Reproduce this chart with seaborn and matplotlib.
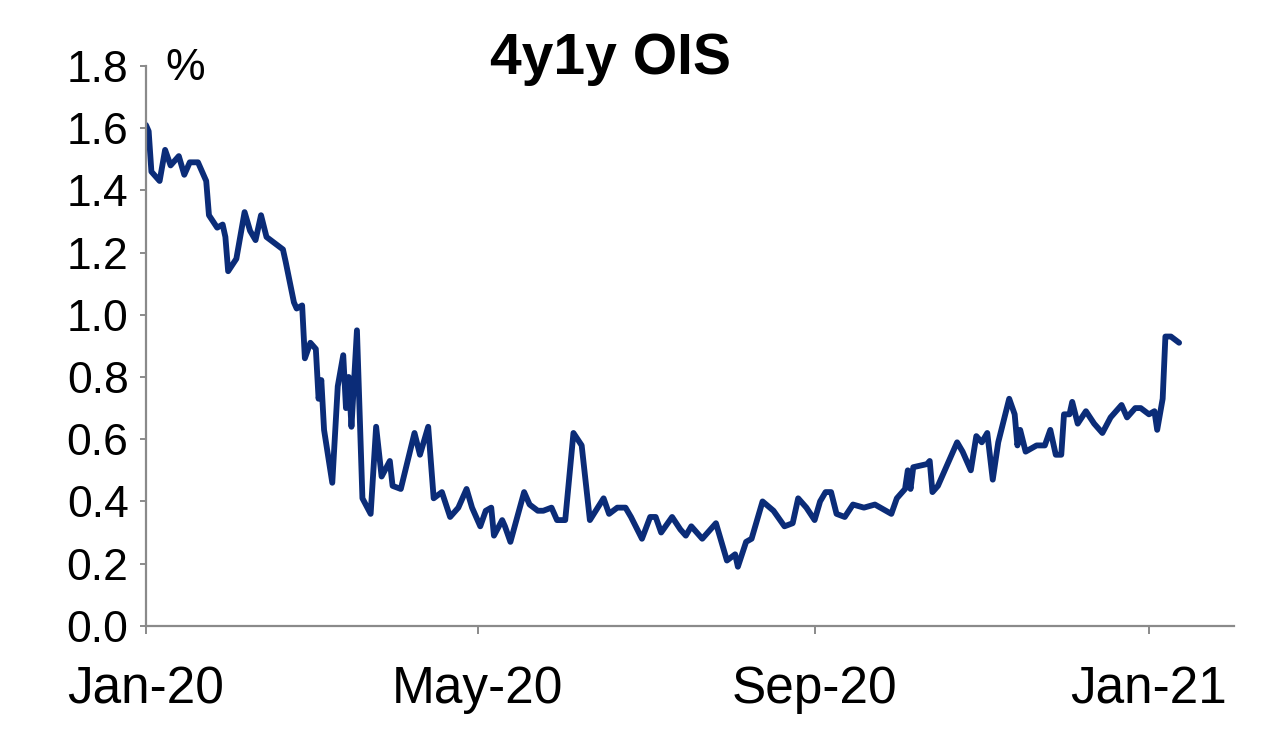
import matplotlib
matplotlib.use("Agg")
import matplotlib.pyplot as plt
import matplotlib.dates as mdates
import numpy as np
import pandas as pd
import seaborn as sns

# Days since 2020-01-01 and 4y1y OIS level in %
day_offsets = [0, 1, 2, 5, 7, 9, 12, 14, 16, 19, 22, 23, 26, 28, 29, 30, 33, 36, 38, 40,
               42, 44, 50, 51, 54, 55, 57, 58, 60, 62, 63, 64, 65, 68, 70, 72, 73, 74, 75, 77,
               79, 82, 84, 86, 89, 90, 93, 98, 100, 103, 105, 108, 111, 114, 117, 119, 122, 124, 126, 127,
               130, 131, 133, 138, 140, 143, 145, 148, 150, 153, 156, 159, 162, 167, 169, 172, 175, 177, 181, 184,
               186, 188, 192, 195, 197, 199, 203, 205, 208, 212, 215, 216, 219, 221, 225, 229, 233, 236, 238, 241,
               244, 246, 248, 250, 252, 255, 258, 262, 266, 268, 272, 274, 277, 278, 279, 280, 285, 286, 287, 289,
               293, 296, 298, 301, 303, 305, 307, 309, 311, 315, 317, 318, 319, 321, 325, 328, 330, 332, 334, 335,
               337, 338, 340, 343, 346, 349, 352, 356, 358, 361, 363, 366, 368, 369, 371, 372, 374, 377]
ois_4y1y = [1.61, 1.59, 1.46, 1.43, 1.53, 1.48, 1.51, 1.45, 1.49, 1.49, 1.43, 1.32, 1.28, 1.29, 1.25, 1.14, 1.18, 1.33, 1.27, 1.24,
            1.32, 1.25, 1.21, 1.17, 1.04, 1.02, 1.03, 0.86, 0.91, 0.89, 0.73, 0.79, 0.63, 0.46, 0.77, 0.87, 0.70, 0.80, 0.64, 0.95,
            0.41, 0.36, 0.64, 0.48, 0.53, 0.45, 0.44, 0.62, 0.55, 0.64, 0.41, 0.43, 0.35, 0.38, 0.44, 0.38, 0.32, 0.37, 0.38, 0.29,
            0.34, 0.32, 0.27, 0.43, 0.39, 0.37, 0.37, 0.38, 0.34, 0.34, 0.62, 0.58, 0.34, 0.41, 0.36, 0.38, 0.38, 0.35, 0.28, 0.35,
            0.35, 0.30, 0.35, 0.31, 0.29, 0.32, 0.28, 0.30, 0.33, 0.21, 0.23, 0.19, 0.27, 0.28, 0.40, 0.37, 0.32, 0.33, 0.41, 0.38,
            0.34, 0.40, 0.43, 0.43, 0.36, 0.35, 0.39, 0.38, 0.39, 0.38, 0.36, 0.41, 0.44, 0.50, 0.44, 0.51, 0.52, 0.53, 0.43, 0.45,
            0.53, 0.59, 0.56, 0.50, 0.61, 0.59, 0.62, 0.47, 0.59, 0.73, 0.68, 0.58, 0.63, 0.56, 0.58, 0.58, 0.63, 0.55, 0.55, 0.68,
            0.68, 0.72, 0.65, 0.69, 0.65, 0.62, 0.67, 0.71, 0.67, 0.70, 0.70, 0.68, 0.69, 0.63, 0.73, 0.93, 0.93, 0.91]

tick_dates = ["2020-01-01", "2020-05-01", "2020-09-01", "2021-01-01"]
y_ticks = [0.0, 0.2, 0.4, 0.6, 0.8, 1.0, 1.2, 1.4, 1.6, 1.8]
title_text = "4y1y OIS"
unit_text = "%"

start = pd.Timestamp("2020-01-01")
df = pd.DataFrame({
    "date": start + pd.to_timedelta(day_offsets, unit="D"),
    "value": ois_4y1y,
})

sns.set_theme(style="white")
plt.rcParams["font.family"] = ["Liberation Sans", "DejaVu Sans"]

fig = plt.figure(figsize=(12.8, 7.32), dpi=100)
ax = fig.add_axes([0.114, 0.145, 0.850, 0.765])

sns.lineplot(data=df, x="date", y="value", ax=ax, color="#0b2c78", linewidth=4.2)
for line in ax.get_lines():
    line.set_solid_joinstyle("round")
    line.set_solid_capstyle("round")

ax.set_xlim(pd.Timestamp("2020-01-01"), pd.Timestamp("2021-02-01"))
ax.set_ylim(0, 1.8)
ax.set_yticks(y_ticks)
ax.set_yticklabels([f"{v:.1f}" for v in y_ticks])
ax.set_xticks(pd.to_datetime(tick_dates))
ax.xaxis.set_major_formatter(mdates.DateFormatter("%b-%y"))
ax.set_xlabel("")
ax.set_ylabel("")

for side in ["top", "right"]:
    ax.spines[side].set_visible(False)
for side in ["left", "bottom"]:
    ax.spines[side].set_color("#8a8a8a")
    ax.spines[side].set_linewidth(1.6)

ax.tick_params(axis="y", which="major", direction="out", length=4.5, width=1.4,
               color="#8a8a8a", labelsize=32, pad=8, left=True, labelcolor="black")
ax.tick_params(axis="x", which="major", direction="out", length=5.5, width=1.4,
               color="#8a8a8a", labelsize=37, pad=23, bottom=True, labelcolor="black")

ax.text(0.036, 0.995, unit_text, transform=ax.transAxes, ha="center", va="center",
        fontsize=32, color="black")
fig.text(0.477, 0.920, title_text, ha="center", va="center", fontsize=41,
         fontweight="bold", color="black")

fig.savefig("out.png", dpi=100, facecolor="white")
